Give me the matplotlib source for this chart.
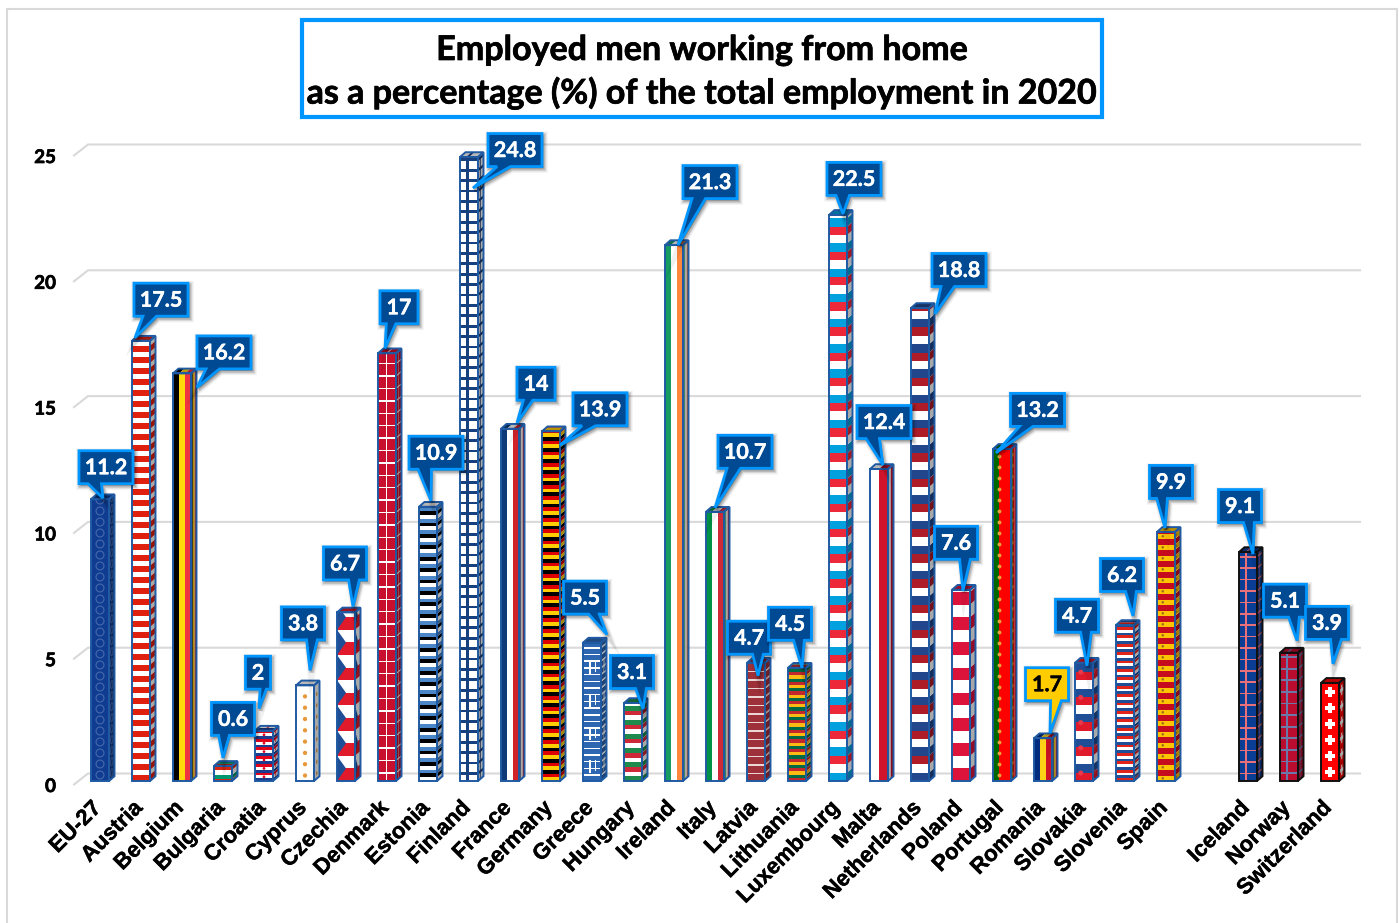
import numpy as np
import matplotlib
matplotlib.use("Agg")
import matplotlib.pyplot as plt
import matplotlib.patheffects as pe
from matplotlib.collections import PolyCollection
from matplotlib.colors import to_rgb
from matplotlib.patches import Polygon, Rectangle
from matplotlib.path import Path
from matplotlib.transforms import Affine2D, ScaledTranslation

# ---- chart data -------------------------------------------------------------
countries = ["EU-27", "Austria", "Belgium", "Bulgaria", "Croatia", "Cyprus", "Czechia",
             "Denmark", "Estonia", "Finland", "France", "Germany", "Greece", "Hungary",
             "Ireland", "Italy", "Latvia", "Lithuania", "Luxembourg", "Malta",
             "Netherlands", "Poland", "Portugal", "Romania", "Slovakia", "Slovenia",
             "Spain", "", "Iceland", "Norway", "Switzerland"]
values = [11.2, 17.5, 16.2, 0.6, 2, 3.8, 6.7, 17, 10.9, 24.8, 14, 13.9, 5.5, 3.1,
          21.3, 10.7, 4.7, 4.5, 22.5, 12.4, 18.8, 7.6, 13.2, 1.7, 4.7, 6.2, 9.9,
          None, 9.1, 5.1, 3.9]
y_ticks = [0, 5, 10, 15, 20, 25]
title_lines = ["Employed men working from home",
               "as a percentage (%) of the total employment in 2020"]

# ---- figure geometry, in pixels --------------------------------------------
W_PX, H_PX = 1399, 923
BAR_W, SIDE_D, SIDE_S = 18.0, 5.5, 4.8
BORDER = "#1F5AA3"
CALLOUT_FILL, CALLOUT_EDGE = "#004A94", "#0096FF"

# Label layout per bar: box centre and pointer tip, as pixel offsets from the bar's top
callout_layout = {
    "EU-27": (6, 32, 3, 1), "Austria": (20, 41, -6, 3), "Belgium": (42, 21, 15, -14),
    "Bulgaria": (10, 47, 0, 8), "Croatia": (-6, 58, -5, 22), "Cyprus": (-2, 62, 5, 15),
    "Czechia": (-1, 49, 7, 6), "Denmark": (12, 46, -2, 5), "Estonia": (8, 54, 3, 6),
    "Finland": (46, 7, 4, -31), "France": (26, 45, 7, 6), "Germany": (49, 22, 9, -14),
    "Greece": (-7, 45, 15, 8), "Hungary": (-1, 31, 10, -6), "Ireland": (36, 63, 4, 0),
    "Italy": (30, 60, 0, 4), "Latvia": (-7, 25, 2, -13), "Lithuania": (-7, 44, 5, 0),
    "Luxembourg": (16, 36, 5, 1), "Malta": (5, 47, 4, 4), "Netherlands": (39, 38, 15, -6),
    "Poland": (-5, 47, 2, -1), "Portugal": (35.5, 39, -6, -4), "Romania": (4, 54, 7, 5),
    "Slovakia": (-7, 47, 3, -3), "Slovenia": (-3, 50, 8, 9), "Spain": (5, 50, -1, 4),
    "Iceland": (-8, 46, 5, -2), "Norway": (-4, 52, 8, 12), "Switzerland": (-3, 60, 3, 19),
}
box_half_width = {1: 12.5, 2: 19, 3: 21.5, 4: 27}

# Flag-style fills: each entry is a stack of layers painted on the bar faces
bar_fills = {
    "EU-27": [("fill", "#0F3C91"), ("rings", "#4569AC", 11, 4)],
    "Austria": [("bands", ["#E0200F", "#FFFFFF"], [6.5, 4.5])],
    "Belgium": [("columns", ["#000000", "#FFD90C", "#EF3340"])],
    "Bulgaria": [("bands", ["#D62612", "#00966E", "#FFFFFF", "#D62612"], [2, 4, 5, 4])],
    "Croatia": [("bands", ["#1B3C8F", "#FFFFFF", "#E3001B"], [2.8, 2.8, 2.8]),
                ("spots", "#E3001B", 8.4, 4.2, 0.5, 1.4)],
    "Cyprus": [("fill", "#FFFFFF"), ("spots", "#E8973A", 11.3, 5.5, 0.5, 2.2)],
    "Czechia": [("bands", ["#E01A2B", "#FFFFFF"], [12.6, 12.6]), ("chevrons", "#1F4E96", 25.2)],
    "Denmark": [("fill", "#C8102E"), ("grid", "#FFFFFF", 12.4, 1.3, 0.45)],
    "Estonia": [("bands", ["#FFFFFF", "#000000", "#4A86C8"], [3.8, 3.8, 3.8])],
    "Finland": [("fill", "#FFFFFF"), ("grid", "#17407F", 10.4, 2.8, 0.34)],
    "France": [("columns", ["#0F3A7A", "#FFFFFF", "#D2232A"])],
    "Germany": [("bands", ["#FFCE00", "#DD0000", "#000000"], [3.7, 3.7, 3.7])],
    "Greece": [("bands", ["#2E67B1", "#FFFFFF"], [5.2, 1.5]), ("columns_at", "#FFFFFF", 0.36, 1.5, 33)],
    "Hungary": [("bands", ["#1E8A4C", "#FFFFFF", "#CE2939"], [4.7, 4.7, 4.7])],
    "Ireland": [("columns", ["#169B62", "#FFFFFF", "#FF883E"])],
    "Italy": [("columns", ["#009246", "#FFFFFF", "#CE2B37"])],
    "Latvia": [("bands", ["#9E3039", "#EBD5D5"], [7, 1.5])],
    "Lithuania": [("bands", ["#C1272D", "#006A44", "#FDB913"], [3.2, 3.2, 3.2])],
    "Luxembourg": [("bands", ["#00A1DE", "#FFFFFF", "#ED2939"], [8.4, 8.4, 8.4])],
    "Malta": [("columns", ["#FFFFFF", "#CF142B"])],
    "Netherlands": [("bands", ["#21468B", "#FFFFFF", "#AE1C28"], [8.4, 8.4, 8.4])],
    "Poland": [("bands", ["#DC143C", "#FFFFFF"], [12.6, 12.6])],
    "Portugal": [("columns", ["#006600", "#FF0000", "#FF0000"]), ("spots", "#E8A33A", 11, 5.5, 0.36, 2)],
    "Romania": [("columns", ["#002B7F", "#FCD116", "#CE1126"])],
    "Slovakia": [("bands", ["#E01A2B", "#1F4E96", "#FFFFFF"], [8.4, 8.4, 8.4]),
                 ("spots", "#E8384A", 25.2, 8, 0.32, 2.6)],
    "Slovenia": [("bands", ["#E2231A", "#1F4E96", "#FFFFFF"], [2.8, 2.8, 2.8])],
    "Spain": [("bands", ["#FFC400", "#C60B1E"], [5.5, 5.5]), ("spots", "#9A6A22", 11, 2.7, 0.32, 1.3)],
    "Iceland": [("fill", "#0A3D94"), ("grid", "#E8707A", 11.4, 1.6, 0.35)],
    "Norway": [("fill", "#BA0C2F"), ("grid", "#6B78A8", 11.6, 1.8, 0.35)],
    "Switzerland": [("fill", "#FF0000"), ("plus", "#FFFFFF", 16, 5.2, 1.9)],
}
black_border = {"Iceland", "Norway", "Switzerland"}


def shade(color, factor):
    return tuple(c * factor for c in to_rgb(color))


def rect(u0, u1, h0, h1):
    return [(u0, h0), (u1, h0), (u1, h1), (u0, h1)]


def layer_polys(layer, height):
    """Return polygons in face coordinates (u across 0-1, h up in pixels) with a colour."""
    kind = layer[0]
    polys, cols = [], []
    if kind == "fill":
        polys.append(rect(0, 1, 0, height)); cols.append(layer[1])
    elif kind == "columns":
        n = len(layer[1])
        for k, c in enumerate(layer[1]):
            polys.append(rect(k / n, (k + 1) / n, 0, height)); cols.append(c)
    elif kind == "bands":
        h, k = 0.0, 0
        while h < height:
            t = layer[2][k % len(layer[2])]
            polys.append(rect(0, 1, h, h + t)); cols.append(layer[1][k % len(layer[1])])
            h += t; k += 1
    elif kind == "grid":
        _, c, period, lw, vpos = layer
        for h in np.arange(period * 0.6, height, period):
            polys.append(rect(0, 1, h, h + lw)); cols.append(c)
        polys.append(rect(vpos, vpos + lw / BAR_W, 0, height)); cols.append(c)
    elif kind == "spots":
        _, c, period, start, upos, r = layer
        t = np.linspace(0, 2 * np.pi, 10, endpoint=False)
        for h in np.arange(start, height, period):
            polys.append(list(zip(upos + r / BAR_W * np.cos(t), h + r * np.sin(t)))); cols.append(c)
    elif kind == "chevrons":
        _, c, period = layer
        for h in np.arange(0, height, period):
            polys.append([(0, h), (0.5, h + period / 2), (0, h + period)]); cols.append(c)
    elif kind == "columns_at":
        _, c, upos, lw, period = layer
        for h in np.arange(period * 0.25, height, period):
            polys.append(rect(upos, upos + lw / BAR_W, h, h + period * 0.4)); cols.append(c)
            polys.append(rect(upos + 0.28, upos + 0.28 + lw / BAR_W, h + 2, h + period * 0.4)); cols.append(c)
    elif kind == "plus":
        _, c, period, arm, half = layer
        for h in np.arange(period * 0.55, height, period):
            polys.append(rect(0.5 - half / BAR_W, 0.5 + half / BAR_W, h - arm, h + arm)); cols.append(c)
            polys.append(rect(0.5 - arm / BAR_W, 0.5 + arm / BAR_W, h - half, h + half)); cols.append(c)
    return polys, cols


def paint_face(ax, layers, height, face_tf, factor, zorder):
    """Paint a stack of fill layers on one face of a bar."""
    clip = Path(rect(0, 1, 0, height) + [(0, 0)], closed=True)
    for layer in layers:
        if layer[0] == "rings":
            _, c, period, r = layer
            t = np.linspace(0, 2 * np.pi, 14, endpoint=False)
            polys = [list(zip(0.5 + r / BAR_W * np.cos(t), h + r * np.sin(t)))
                     for h in np.arange(6, height, period)]
            coll = PolyCollection(polys, facecolors="none", edgecolors=[shade(c, factor)],
                                  linewidths=0.8, transform=face_tf, zorder=zorder)
        else:
            polys, cols = layer_polys(layer, height)
            coll = PolyCollection(polys, facecolors=[shade(c, factor) for c in cols],
                                  edgecolors="none", transform=face_tf, zorder=zorder)
        ax.add_collection(coll, autolim=False)
        coll.set_clip_path(clip, face_tf)


def draw_bar(ax, position, value, name):
    x0, y0 = ax.transData.transform((position, 0))
    x0 -= BAR_W / 2
    _, y1 = ax.transData.transform((position, value))
    height = y1 - y0
    layers = bar_fills[name]
    edge = "#101010" if name in black_border else BORDER

    side_tf = Affine2D(np.array([[SIDE_D, 0, x0 + BAR_W], [SIDE_S, 1, y0], [0, 0, 1.0]]))
    top_tf = Affine2D(np.array([[BAR_W, SIDE_D / SIDE_S, x0], [0, 1, y1], [0, 0, 1.0]]))
    front_tf = Affine2D(np.array([[BAR_W, 0, x0], [0, 1, y0], [0, 0, 1.0]]))
    paint_face(ax, layers, height, side_tf, 0.66, 3)
    paint_face(ax, layers, SIDE_S, top_tf, 0.72, 3)
    paint_face(ax, layers, height, front_tf, 1.0, 4)

    for verts, tf in ((rect(0, 1, 0, height), side_tf), (rect(0, 1, 0, SIDE_S), top_tf),
                      (rect(0, 1, 0, height), front_tf)):
        ax.add_patch(Polygon(verts, closed=True, fill=False, edgecolor=edge, linewidth=1.4,
                             transform=tf, zorder=5, clip_on=False, joinstyle="miter"))


def draw_callout(ax, position, value, name, text, order):
    ax_px, ay_px = ax.transData.transform((position, value))
    dx, dy, tx, ty = callout_layout[name]
    half_w = box_half_width[len(text)]
    half_h = 16.5
    l, r, b, t = dx - half_w, dx + half_w, dy - half_h, dy + half_h
    w = r - l
    if tx < dx:
        base0, base1 = l + w * 2 / 12, l + w * 5 / 12
    else:
        base0, base1 = l + w * 7 / 12, l + w * 10 / 12
    verts = [(l, t), (r, t), (r, b), (base1, b), (tx, ty), (base0, b), (l, b)]
    yellow = name == "Romania"
    base = Affine2D().translate(ax_px, ay_px)
    z = 10 + order * 0.01
    for lw, alpha in ((6.0, 0.06), (4.0, 0.10), (2.5, 0.14)):
        shadow_tf = Affine2D().translate(ax_px + 1.5, ay_px - 2)
        ax.add_patch(Polygon(verts, closed=True, facecolor="#000000", edgecolor="#000000", alpha=alpha,
                             linewidth=lw, transform=shadow_tf, zorder=z, clip_on=False))
    ax.add_patch(Polygon(verts, closed=True, facecolor="#FFCC00" if yellow else CALLOUT_FILL,
                         edgecolor=CALLOUT_EDGE, linewidth=2.0, transform=base, zorder=z,
                         clip_on=False, joinstyle="miter"))
    color = "#000000" if yellow else "#FFFFFF"
    ax.text(dx, dy - 0.5, text, transform=base, ha="center", va="center", zorder=z,
            color=color, fontsize=15.5, family="Lato", weight="bold",
            path_effects=[pe.withStroke(linewidth=0.3, foreground=color)])


fig = plt.figure(figsize=(W_PX / 100, H_PX / 100), dpi=100, facecolor="white")
heavy = [pe.withStroke(linewidth=0.5, foreground="black")]

# Outer chart frame and the boxed two-line title
fig.add_artist(Rectangle((7 / W_PX, -0.01), (1397 - 7) / W_PX, 1.01 - 9 / H_PX, fill=False,
                         edgecolor="#D9D9D9", linewidth=1.5, transform=fig.transFigure))
fig.add_artist(Rectangle((302 / W_PX, 1 - 117 / H_PX), 800 / W_PX, 97 / H_PX, facecolor="white",
                         edgecolor="#0096FF", linewidth=3, transform=fig.transFigure))
for line, py in zip(title_lines, (50, 93)):
    fig.text(702 / W_PX, 1 - py / H_PX, line, ha="center", va="center", fontsize=24.5,
             family="Lato", weight="bold", color="black", path_effects=heavy)

# Axes laid out so that one category is 41 px wide and one unit is 25.16 px tall
PX_PER_UNIT = 25.16
ax = fig.add_axes([74 / W_PX, 1 - 781 / H_PX, (1360 - 74) / W_PX, (781 - 145) / H_PX])
ax.set_xlim((74 - 100) / 41, (1360 - 100) / 41)
ax.set_ylim(0, (781 - 145) / PX_PER_UNIT)
ax.patch.set_alpha(0)
for spine in ax.spines.values():
    spine.set_visible(False)

# Back-wall gridlines with their short slanted floor returns
back_x = (88 - 74) / 41 + ax.get_xlim()[0]
back_y = 7.5 / PX_PER_UNIT
for tick in y_ticks:
    ax.plot([ax.get_xlim()[0], back_x, ax.get_xlim()[1]],
            [tick + back_y - 11 / PX_PER_UNIT, tick + back_y, tick + back_y],
            color="#D9D9D9", lw=1.5, zorder=1, clip_on=False, solid_joinstyle="miter")

ax.set_yticks(y_ticks, [str(t) for t in y_ticks], family="Lato", weight="bold", fontsize=13.5)
ax.tick_params(axis="y", length=0, pad=13)
for label in ax.get_yticklabels():
    label.set_path_effects(heavy)
    label.set_transform(label.get_transform() + ScaledTranslation(0, -4 / 100, fig.dpi_scale_trans))

positions = [i for i, name in enumerate(countries) if name]
ax.set_xticks(positions, [countries[i] for i in positions], rotation=45, ha="right",
              rotation_mode="anchor", family="Liberation Sans", weight="bold", fontsize=16)
ax.tick_params(axis="x", length=0, pad=12)
for label in ax.get_xticklabels():
    label.set_path_effects([pe.withStroke(linewidth=0.3, foreground="black")])
    label.set_transform(label.get_transform() + ScaledTranslation(-9 / 100, 0, fig.dpi_scale_trans))

for order, i in enumerate(positions):
    draw_bar(ax, i, values[i], countries[i])
for order, i in enumerate(positions):
    draw_callout(ax, i, values[i], countries[i], f"{values[i]:g}", order)

fig.savefig("out.png", dpi=100)
